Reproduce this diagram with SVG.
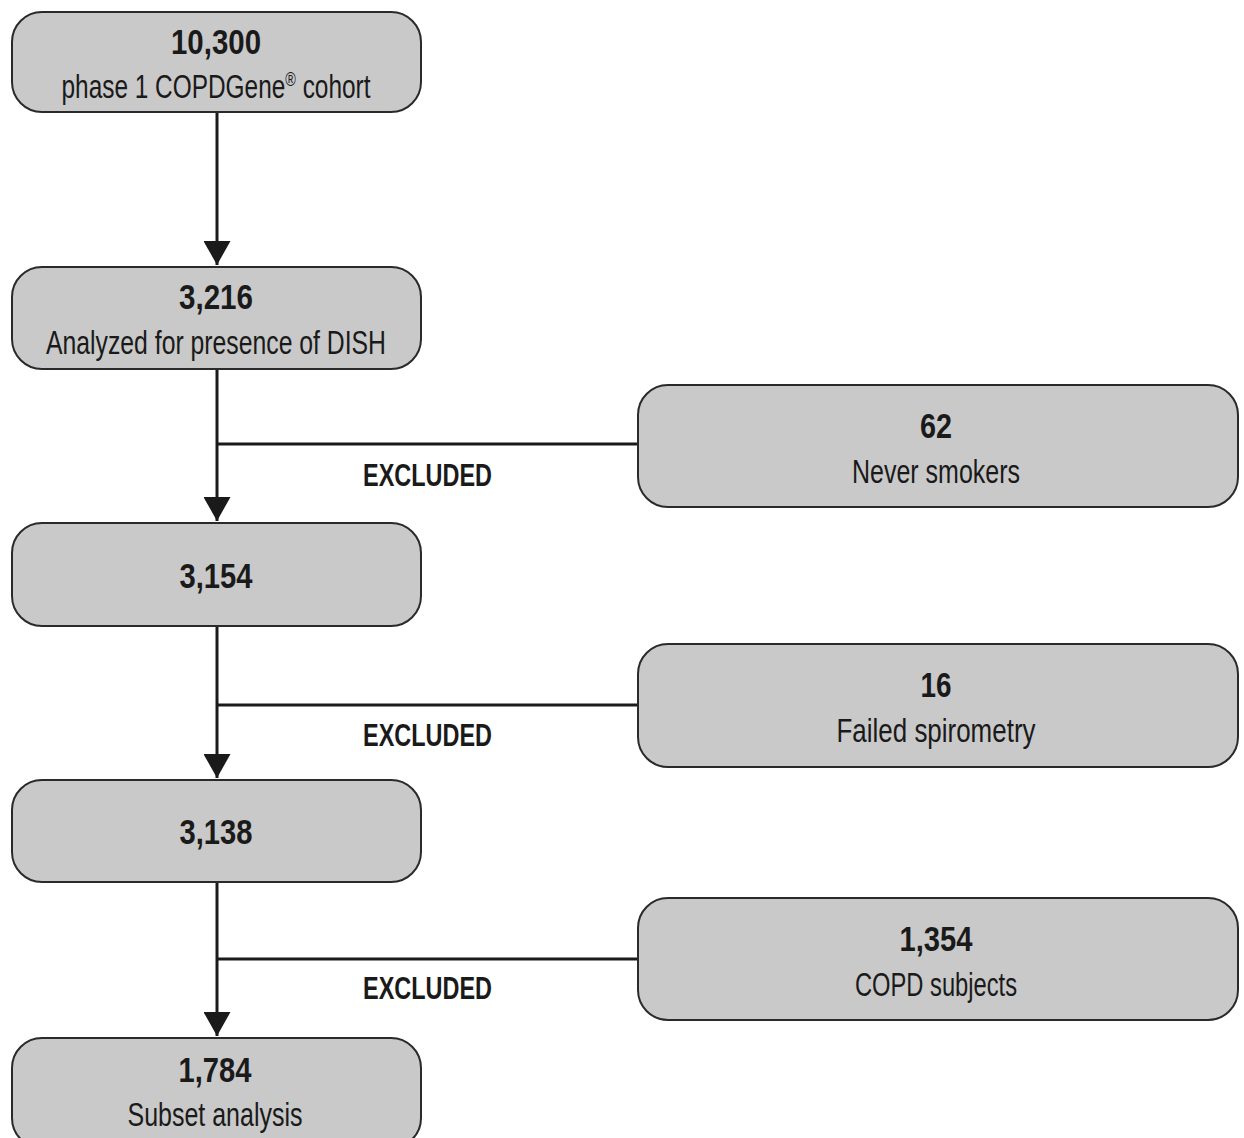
<svg xmlns="http://www.w3.org/2000/svg" width="1244" height="1138" viewBox="0 0 1244 1138">
<style>
.box{fill:#c9c9c9;stroke:#2a2a2a;stroke-width:2}
text{font-family:"Liberation Sans",Arial,sans-serif;fill:#1a1a1a;text-anchor:middle}
.b{font-weight:bold;font-size:35px}
.r{font-size:34px}
.ex{font-weight:bold;font-size:32px;text-anchor:start}
.ln{stroke:#1a1a1a;stroke-width:3;fill:none}
</style>
<defs>
<marker id="ah" markerWidth="8" markerHeight="9" refX="8" refY="4.5" orient="auto" markerUnits="strokeWidth">
<path d="M0,0 L8,4.5 L0,9 Z" fill="#1a1a1a"/>
</marker>
</defs>
<rect width="1244" height="1138" fill="#fff"/>
<g id="connectors">
<line class="ln" x1="217" y1="112" x2="217" y2="265" marker-end="url(#ah)"/>
<line class="ln" x1="217" y1="369" x2="217" y2="521" marker-end="url(#ah)"/>
<line class="ln" x1="217" y1="626" x2="217" y2="778" marker-end="url(#ah)"/>
<line class="ln" x1="217" y1="882" x2="217" y2="1036" marker-end="url(#ah)"/>
<line class="ln" x1="217" y1="444" x2="638" y2="444"/>
<line class="ln" x1="217" y1="705" x2="638" y2="705"/>
<line class="ln" x1="217" y1="959" x2="638" y2="959"/>
<text class="ex" x="363" y="486" textLength="129" lengthAdjust="spacingAndGlyphs">EXCLUDED</text>
<text class="ex" x="363" y="746" textLength="129" lengthAdjust="spacingAndGlyphs">EXCLUDED</text>
<text class="ex" x="363" y="999" textLength="129" lengthAdjust="spacingAndGlyphs">EXCLUDED</text>
</g>
<g id="n1"><rect class="box" x="12" y="12" width="409" height="100" rx="30"/><text class="b" x="216" y="54" textLength="90" lengthAdjust="spacingAndGlyphs">10,300</text><text class="r" x="216" y="98" textLength="309" lengthAdjust="spacingAndGlyphs">phase 1 COPDGene<tspan font-size="20" dy="-12">®</tspan><tspan dy="12"> cohort</tspan></text></g>
<g id="n2"><rect class="box" x="12" y="267" width="409" height="102" rx="30"/><text class="b" x="216" y="309" textLength="74" lengthAdjust="spacingAndGlyphs">3,216</text><text class="r" x="216" y="354" textLength="340" lengthAdjust="spacingAndGlyphs">Analyzed for presence of DISH</text></g>
<g id="n3"><rect class="box" x="12" y="523" width="409" height="103" rx="30"/><text class="b" x="216" y="588" textLength="73" lengthAdjust="spacingAndGlyphs">3,154</text></g>
<g id="n4"><rect class="box" x="12" y="780" width="409" height="102" rx="30"/><text class="b" x="216" y="844" textLength="73" lengthAdjust="spacingAndGlyphs">3,138</text></g>
<g id="n5"><rect class="box" x="12" y="1038" width="409" height="110" rx="30"/><text class="b" x="215" y="1082" textLength="73" lengthAdjust="spacingAndGlyphs">1,784</text><text class="r" x="215" y="1126" textLength="175" lengthAdjust="spacingAndGlyphs">Subset analysis</text></g>
<g id="e1"><rect class="box" x="638" y="385" width="600" height="122" rx="30"/><text class="b" x="936" y="438" textLength="32" lengthAdjust="spacingAndGlyphs">62</text><text class="r" x="936" y="483" textLength="168" lengthAdjust="spacingAndGlyphs">Never smokers</text></g>
<g id="e2"><rect class="box" x="638" y="644" width="600" height="123" rx="30"/><text class="b" x="936" y="697" textLength="31" lengthAdjust="spacingAndGlyphs">16</text><text class="r" x="936" y="742" textLength="199" lengthAdjust="spacingAndGlyphs">Failed spirometry</text></g>
<g id="e3"><rect class="box" x="638" y="898" width="600" height="122" rx="30"/><text class="b" x="936" y="951" textLength="73" lengthAdjust="spacingAndGlyphs">1,354</text><text class="r" x="936" y="996" textLength="162" lengthAdjust="spacingAndGlyphs">COPD subjects</text></g>
</svg>
